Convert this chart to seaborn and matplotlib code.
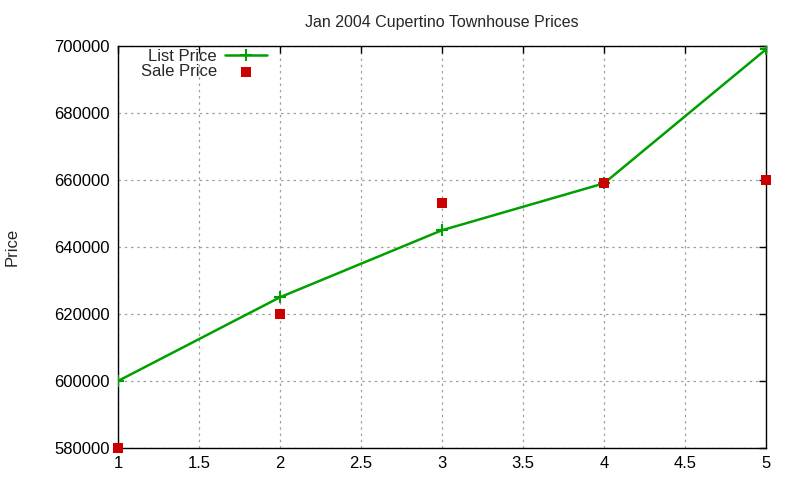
import numpy as np
import pandas as pd
import matplotlib
matplotlib.use("Agg")
import matplotlib.pyplot as plt
import seaborn as sns

# data
units = [1, 2, 3, 4, 5]
list_price = [600000, 625000, 645000, 659000, 699000]
sale_price = [580000, 620000, 653000, 659000, 660000]

df = pd.DataFrame({"unit": units, "list": list_price, "sale": sale_price})

sns.set_theme(style="white")
plt.rcParams['font.family'] = ['Liberation Sans', 'DejaVu Sans']

fig = plt.figure(figsize=(8, 4.8), dpi=100)
ax = fig.add_axes([0.1475, 0.0667, 0.81, 0.8375])

green = "#00a000"
red = "#cc0000"

sns.lineplot(data=df, x="unit", y="list", ax=ax, color=green, lw=1.8,
             marker="+", markersize=8, markeredgewidth=1.5,
             markeredgecolor=green, label="List Price", zorder=3)
sns.scatterplot(data=df, x="unit", y="sale", ax=ax, color=red, marker="s",
                s=45, linewidth=0, label="Sale Price", zorder=4, clip_on=False)

ax.set_xlim(1, 5)
ax.set_ylim(580000, 700000)
ax.set_xticks(np.arange(1, 5.01, 0.5))
ax.set_xticklabels(["1", "1.5", "2", "2.5", "3", "3.5", "4", "4.5", "5"])
ax.set_yticks(np.arange(580000, 700001, 20000))
ax.set_yticklabels([str(v) for v in range(580000, 700001, 20000)])

ax.grid(True, color="#a0a0a0", linestyle=(0, (2, 3)), linewidth=0.9)
ax.tick_params(direction="in", length=5, width=1, top=True, right=True,
               labelsize=12, colors="black", pad=6)
for s in ax.spines.values():
    s.set_color("black")
    s.set_linewidth(1)

ax.set_xlabel("")
ax.set_ylabel("Price", fontsize=12)
ax.yaxis.set_label_coords(-0.152, 0.5)
ax.set_title("Jan 2004 Cupertino Townhouse Prices", fontsize=11.5, pad=14)

leg = ax.legend(loc="upper right", bbox_to_anchor=(0.23, 0.9925), frameon=False,
                markerfirst=False, fontsize=12, handlelength=2.5,
                handletextpad=0.5, labelspacing=0.0, borderaxespad=0,
                borderpad=0)

fig.savefig("out.png", dpi=100)
